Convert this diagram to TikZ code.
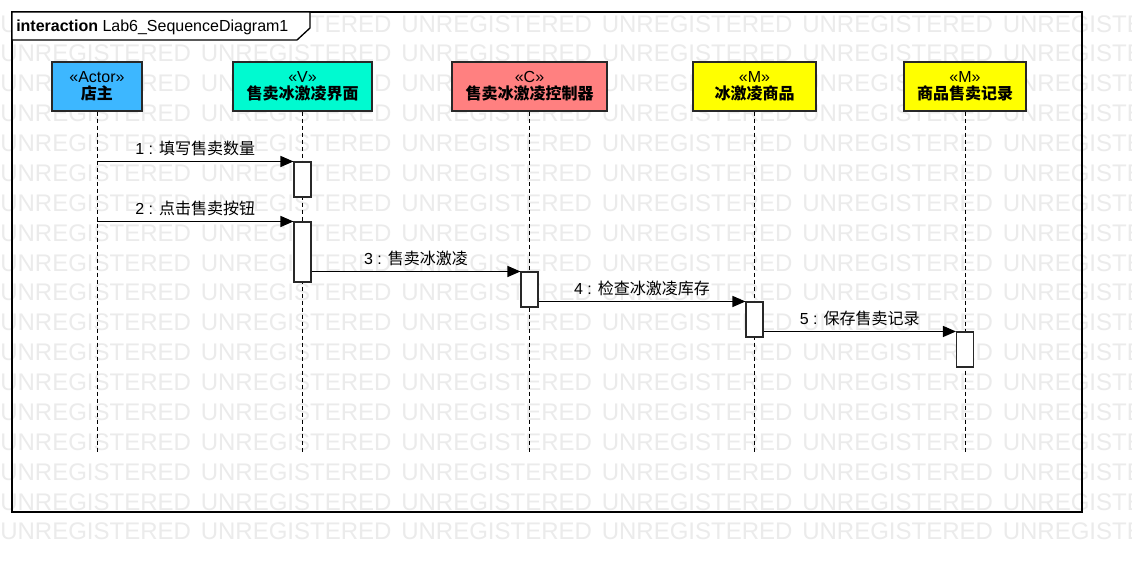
\documentclass[tikz,border=0pt]{standalone}
\usepackage{fontspec}
\setmainfont{Liberation Sans}
\newfontfamily\cjk{Noto Sans CJK SC}
\usetikzlibrary{arrows.meta}
\definecolor{wm}{RGB}{235,235,235}
\definecolor{actorc}{RGB}{61,183,255}
\definecolor{viewc}{RGB}{0,250,208}
\definecolor{ctrlc}{RGB}{255,128,128}
\definecolor{modelc}{RGB}{255,255,0}
\definecolor{edge}{RGB}{40,40,40}
\tikzset{
  wmtext/.style={anchor=base west, inner sep=0pt, text=wm, font=\fontsize{18}{18}\selectfont},
  frameline/.style={draw=black, line width=1pt},
  obj/.style={draw=edge, line width=1pt, inner sep=0pt, minimum height=36.75pt, align=center,
              font=\fontsize{12}{12}\selectfont},
  life/.style={draw=black, line width=0.75pt, dash pattern=on 3pt off 2.25pt},
  actbar/.style={draw=edge, fill=white, line width=0.8pt, inner sep=0pt, minimum width=12.75pt},
  msg/.style={draw=black, line width=0.9pt, -{Triangle[length=9.75pt,width=8.25pt]}},
  lbl/.style={midway, yshift=9.75pt, inner sep=0pt, font=\fontsize{12}{12}\selectfont}
}
\begin{document}
\begin{tikzpicture}[x=0.75pt,y=-0.75pt]
\useasboundingbox (0,0) rectangle (1132,562);
\fill[white] (0,0) rectangle (1132,562);
% watermark
\begin{scope}
\clip (0,0) rectangle (1132,562);
\foreach \r in {0,...,17}{
  \foreach \c in {0,...,5}{
    \node[wmtext] (w\r-\c) at ({\c*200.5},{32+\r*29.88}) {UNREGISTERED};
  }
}
\end{scope}
% frame
\draw[frameline] (12,12) rectangle (1082,512);
\draw[frameline, fill=white] (12,12) -- (310,12) -- (310,28) -- (297,40) -- (12,40) -- cycle;
\node[anchor=base west, inner sep=0pt, font=\fontsize{12}{12}\selectfont] (title) at (16,31)
  {\bfseries interaction\mdseries{} Lab6\_SequenceDiagram1};
% lifeline heads
\node[obj, fill=actorc, minimum width=67.5pt] (A) at (97,86.5) {«Actor»\\[1pt]{\bfseries\cjk 店主}};
\node[obj, fill=viewc, minimum width=104.25pt] (V) at (302.5,86.5) {«V»\\[1pt]{\bfseries\cjk 售卖冰激凌界面}};
\node[obj, fill=ctrlc, minimum width=116.25pt] (C) at (529.5,86.5) {«C»\\[1pt]{\bfseries\cjk 售卖冰激凌控制器}};
\node[obj, fill=modelc, minimum width=92.25pt] (M) at (754.5,86.5) {«M»\\[1pt]{\bfseries\cjk 冰激凌商品}};
\node[obj, fill=modelc, minimum width=91.5pt] (R) at (965,86.5) {«M»\\[1pt]{\bfseries\cjk 商品售卖记录}};
% lifelines
\coordinate (Ae) at (97,452);
\coordinate (Ve) at (302.5,452);
\coordinate (Ce) at (529.5,452);
\coordinate (Me) at (754.5,452);
\coordinate (Re) at (965,452);
\draw[life] (A.south) -- (Ae);
\draw[life] (V.south) -- (Ve);
\draw[life] (C.south) -- (Ce);
\draw[life] (M.south) -- (Me);
\draw[life] (R.south) -- (Re);
% activation bars
\node[actbar, minimum height=26.25pt] (b1) at (302.5,179.5) {};
\node[actbar, minimum height=45pt] (b2) at (302.5,252) {};
\node[actbar, minimum height=26.25pt] (b3) at (529.5,289.5) {};
\node[actbar, minimum height=26.25pt] (b4) at (754.5,319.5) {};
\node[actbar, minimum height=26.25pt] (b5) at (965,349.5) {};
% messages
\draw[msg] (A |- b1.north) -- (b1.north west) node[lbl] {1 : {\cjk 填写售卖数量}};
\draw[msg] (A |- b2.north) -- (b2.north west) node[lbl] {2 : {\cjk 点击售卖按钮}};
\draw[msg] (b2.east |- b3.north) -- (b3.north west) node[lbl] {3 : {\cjk 售卖冰激凌}};
\draw[msg] (b3.east |- b4.north) -- (b4.north west) node[lbl] {4 : {\cjk 检查冰激凌库存}};
\draw[msg] (b4.east |- b5.north) -- (b5.north west) node[lbl] {5 : {\cjk 保存售卖记录}};
\end{tikzpicture}
\end{document}
